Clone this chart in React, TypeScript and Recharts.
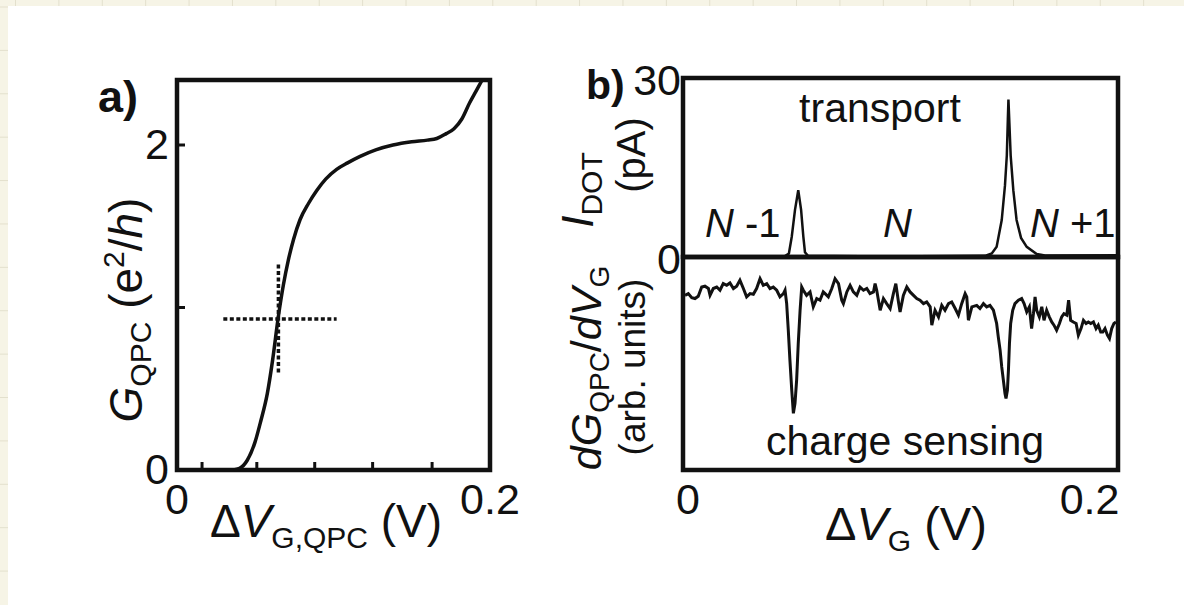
import { Line, LineChart, ReferenceArea, XAxis, YAxis } from 'recharts';

const FONT = '"Liberation Sans", Arial, Helvetica, sans-serif';
const INK = '#111';

// a) QPC conductance (e^2/h) against QPC gate voltage (mV)
const qpcGateMv = [36, 40, 44.9, 49.8, 53.5, 57.7, 61, 64.7, 68, 71.1, 74.5, 78.6, 84, 89.3, 95, 102, 109, 117, 127, 138, 150, 160, 166, 172, 177, 182, 187, 191, 195];
const qpcConductance = [0, 0.01, 0.06, 0.17, 0.3, 0.47, 0.67, 0.94, 1.14, 1.29, 1.42, 1.54, 1.64, 1.72, 1.79, 1.85, 1.89, 1.93, 1.97, 2.0, 2.02, 2.03, 2.04, 2.07, 2.1, 2.16, 2.26, 2.33, 2.4];
const crossHGateMv = [29.6, 102];
const crossHConductance = [0.93, 0.93];
const crossVGateMv = [64.8, 64.8];
const crossVConductance = [0.6, 1.28];
const qpcTicksX = [0, 16, 51, 88, 125, 163, 200];
const qpcTicksY = [0, 1, 2];
const qpcLabelsX: Record<number, string> = { 0: '0', 200: '0.2' };
const qpcLabelsY: Record<number, string> = { 0: '0', 2: '2' };

// b) dot current (pA) and charge sensing signal (arb.) against gate voltage (mV)
const transportMv = [0, 50.2, 52.1, 53.5, 55.1, 56.7, 58.1, 59.2, 60.0, 61.5, 100, 148.6, 151.9, 154.3, 156.8, 158.4, 159.3, 159.8, 160.1, 160.5, 161.2, 162.5, 164.1, 166.3, 169.1, 174.0, 178.1, 214];
const transportPa = [0.1, 0.15, 0.6, 3.4, 7.9, 11.2, 7.9, 3.4, 0.8, 0.2, 0.1, 0.2, 0.6, 1.7, 6.2, 12, 17, 23, 26.4, 23, 17, 11.2, 6.2, 3.2, 1.7, 0.5, 0.25, 0.3];
const sensingMv = [
  1.0, 2.6, 4.3, 5.9, 7.5, 9.2, 10.8, 12.5, 13.3, 14.9, 16.6, 18.2, 19.8, 21.5, 23.1, 24.8, 26.4, 28.0, 29.7, 31.3,
  33.0, 34.6, 36.2, 37.9, 39.5, 41.2, 42.8, 44.4, 46.1, 47.7, 49.4, 50.2, 51.0, 51.8, 52.6, 53.5, 54.3, 55.1, 55.9, 56.7,
  57.6, 58.4, 59.2, 60.8, 62.5, 64.1, 65.8, 67.4, 69.0, 69.9, 71.5, 73.2, 74.8, 76.5, 78.1, 78.9, 80.6, 82.2, 83.8, 85.5,
  87.1, 88.8, 90.4, 92.0, 93.7, 94.5, 95.3, 97.0, 98.6, 100.2, 101.9, 103.5, 104.7, 106.0, 106.8, 108.4, 110.1, 111.7, 113.4, 115.0,
  116.6, 118.3, 119.9, 121.6, 122.4, 124.0, 125.7, 127.3, 128.9, 130.6, 132.2, 133.9, 135.5, 137.1, 138.8, 139.6, 140.4, 142.1, 144.5, 146.1,
  147.8, 149.4, 151.0, 152.7, 153.5, 154.3, 155.1, 156.0, 156.8, 157.6, 158.4, 158.9, 159.6, 160.1, 160.6, 161.2, 162.2, 163.3, 165.0, 166.6,
  167.8, 169.1, 170.4, 171.5, 172.4, 173.2, 174.0, 175.3, 176.5, 177.6, 178.9, 180.2, 181.4, 182.5, 183.8, 185.2, 186.3, 187.4, 188.8, 189.7,
  190.7, 192.0, 193.4, 194.5, 195.8, 197.0, 198.3, 199.4, 200.6, 201.9, 203.2, 204.3, 205.5, 206.5, 207.6, 208.8, 209.8, 210.9, 212.0, 213.0,
];
const sensingSignal = [
  82.0, 82.8, 80.9, 80.5, 81.6, 85.9, 86.3, 85.2, 82.0, 85.2, 85.9, 84.4, 87.5, 86.7, 87.8, 85.2, 86.3, 89.1, 85.2, 81.3,
  82.8, 82.5, 85.2, 89.8, 86.7, 87.5, 85.2, 85.9, 84.4, 81.3, 82.8, 84.4, 78.1, 65.6, 51.6, 37.5, 26.6, 31.3, 42.2, 59.4,
  75.0, 85.9, 84.4, 82.0, 83.6, 76.6, 80.5, 79.7, 83.6, 82.8, 81.3, 85.2, 89.8, 87.5, 79.7, 78.1, 83.6, 86.7, 83.6, 82.0,
  85.9, 84.4, 85.2, 82.8, 83.6, 87.5, 84.4, 75.0, 80.5, 78.1, 75.8, 82.8, 87.5, 78.9, 74.2, 82.0, 85.9, 83.6, 82.0, 80.5,
  79.7, 78.1, 78.9, 76.6, 68.0, 75.0, 71.9, 77.3, 75.0, 78.1, 78.9, 75.8, 72.7, 78.1, 82.8, 81.3, 70.3, 76.6, 77.3, 75.8,
  78.1, 76.6, 77.3, 75.0, 71.9, 68.8, 62.5, 56.3, 48.4, 42.2, 35.9, 33.6, 37.5, 46.9, 59.4, 68.8, 75.0, 78.1, 79.7, 80.5,
  78.1, 74.2, 76.6, 66.4, 73.4, 81.3, 75.0, 71.9, 76.6, 70.3, 75.0, 71.9, 69.5, 68.0, 65.6, 68.8, 71.9, 73.4, 72.7, 79.7,
  70.3, 69.5, 68.8, 63.3, 66.4, 70.3, 68.8, 69.5, 68.8, 69.5, 66.4, 68.0, 64.8, 64.8, 66.4, 63.3, 61.7, 66.4, 68.8, 69.5,
];
const dotTicksX = [0, 200];
const dotLabelsX: Record<number, string> = { 0: '0', 200: '0.2' };
const dotTicksY = [0, 30];
const dotLabelsY: Record<number, string> = { 0: '0', 30: '30' };

const toPoints = (xs: number[], ys: number[]) => xs.map((x, i) => ({ x, y: ys[i] }));

const qpcCurve = toPoints(qpcGateMv, qpcConductance);
const crossH = toPoints(crossHGateMv, crossHConductance);
const crossV = toPoints(crossVGateMv, crossVConductance);
const transport = toPoints(transportMv, transportPa);
const sensing = toPoints(sensingMv, sensingSignal);

function BottomTick({ x = 0, y = 0, payload, labels, marks = [], shift = {} }: any) {
  const v = payload?.value;
  return (
    <g>
      {marks.includes(v) && <line x1={x} x2={x} y1={y} y2={y - 8} stroke={INK} strokeWidth={3} />}
      {labels[v] && (
        <text x={x + (shift[v] ?? 0)} y={y + 44} textAnchor="middle" fontSize={43} fontFamily={FONT} fill={INK}>
          {labels[v]}
        </text>
      )}
    </g>
  );
}

function LeftTick({ x = 0, y = 0, payload, labels, marks = [], gap = 8, dy = 14 }: any) {
  const v = payload?.value;
  return (
    <g>
      {marks.includes(v) && <line x1={x} x2={x + 8} y1={y} y2={y} stroke={INK} strokeWidth={3} />}
      {labels[v] && (
        <text x={x - gap} y={y + dy} textAnchor="end" fontSize={43} fontFamily={FONT} fill={INK}>
          {labels[v]}
        </text>
      )}
    </g>
  );
}

export default function App() {
  return (
    <div
      style={{
        position: 'absolute',
        left: 0,
        top: 0,
        width: 1184,
        height: 605,
        overflow: 'hidden',
        fontFamily: FONT,
        background: '#f6f4e6',
        backgroundImage:
          'linear-gradient(to right, #e3e0cd 1px, transparent 1px), linear-gradient(to bottom, #e3e0cd 1px, transparent 1px)',
        backgroundSize: '43.4px 43.4px',
        backgroundPosition: '15px 6.5px',
      }}
    >
      <div style={{ position: 'absolute', left: 8, top: 6, right: 0, bottom: 0, background: '#fff' }} />

      {/* a) */}
      <div style={{ position: 'absolute', left: 0, top: 0 }}>
        <LineChart width={520} height={605} margin={{ top: 80, right: 30, bottom: 0, left: 127 }}>
          <XAxis
            type="number"
            dataKey="x"
            domain={[0, 200]}
            ticks={qpcTicksX}
            interval={0}
            height={135}
            axisLine={false}
            tickLine={false}
            tickSize={0}
            tickMargin={0}
            tick={<BottomTick labels={qpcLabelsX} marks={[16, 51, 88, 125, 163]} />}
          />
          <YAxis
            type="number"
            domain={[0, 2.4]}
            ticks={qpcTicksY}
            interval={0}
            width={50}
            axisLine={false}
            tickLine={false}
            tickSize={0}
            tickMargin={0}
            tick={<LeftTick labels={qpcLabelsY} marks={[1, 2]} />}
          />
          <ReferenceArea x1={0} x2={200} y1={0} y2={2.4} fill="none" stroke={INK} strokeWidth={4.5} />
          <Line data={qpcCurve} dataKey="y" type="monotone" stroke={INK} strokeWidth={3.5} dot={false} isAnimationActive={false} />
          <Line data={crossH} dataKey="y" type="linear" stroke={INK} strokeWidth={3.5} strokeDasharray="4 2.5" dot={false} isAnimationActive={false} />
          <Line data={crossV} dataKey="y" type="linear" stroke={INK} strokeWidth={3.5} strokeDasharray="4 2.5" dot={false} isAnimationActive={false} />
        </LineChart>
      </div>

      {/* b) transport */}
      <div style={{ position: 'absolute', left: 0, top: 0 }}>
        <LineChart width={1150} height={300} margin={{ top: 78, right: 32, bottom: 43, left: 633 }}>
          <XAxis type="number" dataKey="x" domain={[0, 214]} hide />
          <YAxis
            type="number"
            domain={[0, 30]}
            ticks={dotTicksY}
            interval={0}
            width={50}
            axisLine={false}
            tickLine={false}
            tickSize={0}
            tickMargin={0}
            tick={<LeftTick labels={dotLabelsY} gap={2} dy={17} />}
          />
          <ReferenceArea x1={0} x2={214} y1={0} y2={30} fill="none" stroke={INK} strokeWidth={4.5} />
          <Line data={transport} dataKey="y" type="linear" stroke={INK} strokeWidth={2.5} dot={false} isAnimationActive={false} />
        </LineChart>
      </div>

      {/* b) charge sensing */}
      <div style={{ position: 'absolute', left: 0, top: 0 }}>
        <LineChart width={1150} height={605} margin={{ top: 257, right: 32, bottom: 0, left: 683 }}>
          <XAxis
            type="number"
            dataKey="x"
            domain={[0, 214]}
            ticks={dotTicksX}
            interval={0}
            height={135}
            axisLine={false}
            tickLine={false}
            tickSize={0}
            tickMargin={0}
            tick={<BottomTick labels={dotLabelsX} shift={{ 0: 5 }} />}
          />
          <YAxis type="number" domain={[0, 100]} hide />
          <ReferenceArea x1={0} x2={214} y1={0} y2={100} fill="none" stroke={INK} strokeWidth={4.5} />
          <Line data={sensing} dataKey="y" type="linear" stroke={INK} strokeWidth={3} dot={false} isAnimationActive={false} />
        </LineChart>
      </div>

      <svg
        width={1184}
        height={605}
        style={{ position: 'absolute', left: 0, top: 0, pointerEvents: 'none' }}
        fontFamily={FONT}
        fill={INK}
      >
        <text x={98} y={112} fontSize={45} fontWeight="bold">a)</text>
        <text x={586} y={99} fontSize={41} fontWeight="bold">b)</text>

        <text x={326} y={537} textAnchor="middle" fontSize={46}>
          Δ<tspan fontStyle="italic">V</tspan>
          <tspan fontSize={30} dy={11}>G,QPC</tspan>
          <tspan dy={-11}> (V)</tspan>
        </text>
        <text transform="translate(142,310) rotate(-90)" textAnchor="middle" fontSize={46}>
          <tspan fontStyle="italic">G</tspan>
          <tspan fontSize={30} dy={9}>QPC</tspan>
          <tspan dy={-9}> (e</tspan>
          <tspan fontSize={30} dy={-18}>2</tspan>
          <tspan dy={18}>/</tspan>
          <tspan fontStyle="italic">h</tspan>
          <tspan>)</tspan>
        </text>

        <text transform="translate(593,190) rotate(-90)" textAnchor="middle" fontSize={44}>
          <tspan fontStyle="italic">I</tspan>
          <tspan fontSize={30} dy={9}>DOT</tspan>
        </text>
        <text transform="translate(645,155) rotate(-90)" textAnchor="middle" fontSize={40}>(pA)</text>
        <text transform="translate(601,368) rotate(-90)" textAnchor="middle" fontSize={43}>
          <tspan fontStyle="italic">dG</tspan>
          <tspan fontSize={28} dy={8}>QPC</tspan>
          <tspan dy={-8}>/</tspan>
          <tspan fontStyle="italic">dV</tspan>
          <tspan fontSize={28} dy={8}>G</tspan>
        </text>
        <text transform="translate(645,367) rotate(-90)" textAnchor="middle" fontSize={37}>(arb. units)</text>

        <text x={880} y={122} textAnchor="middle" fontSize={41}>transport</text>
        <text x={705} y={237} fontSize={40}>
          <tspan fontStyle="italic">N</tspan> -1
        </text>
        <text x={883} y={237} fontSize={40} fontStyle="italic">N</text>
        <text x={1030} y={237} fontSize={40}>
          <tspan fontStyle="italic">N</tspan> +1
        </text>
        <text x={905} y={455} textAnchor="middle" fontSize={41}>charge sensing</text>

        <text x={825} y={540} fontSize={47}>
          Δ<tspan fontStyle="italic">V</tspan>
          <tspan fontSize={30} dy={11}>G</tspan>
          <tspan dy={-11}> (V)</tspan>
        </text>
      </svg>
    </div>
  );
}
